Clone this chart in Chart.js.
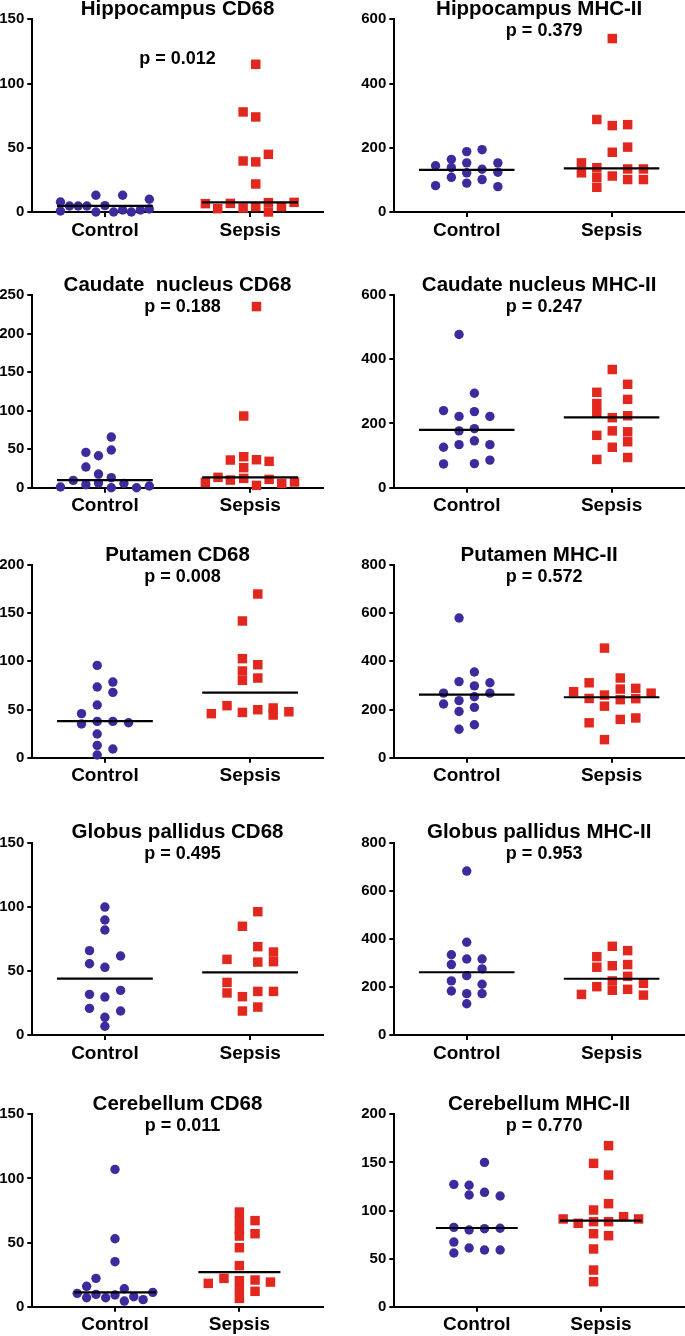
<!DOCTYPE html>
<html>
<head>
<meta charset="utf-8">
<script src="https://cdn.jsdelivr.net/npm/chart.js@4.4.1/dist/chart.umd.min.js"></script>
<style>
  html, body { margin: 0; padding: 0; background: #fff; }
  body { width: 685px; height: 1336px; position: relative; overflow: hidden; }
  canvas { position: absolute; }
</style>
</head>
<body>
<script>
// ---- data ----
const groups = ['Control', 'Sepsis'];
const titles = ['Hippocampus CD68', 'Hippocampus MHC-II', 'Caudate  nucleus CD68', 'Caudate nucleus MHC-II',
  'Putamen CD68', 'Putamen MHC-II', 'Globus pallidus CD68', 'Globus pallidus MHC-II',
  'Cerebellum CD68', 'Cerebellum MHC-II'];
const pValues = ['p = 0.012', 'p = 0.379', 'p = 0.188', 'p = 0.247', 'p = 0.008',
  'p = 0.572', 'p = 0.495', 'p = 0.953', 'p = 0.011', 'p = 0.770'];
const yMax = [150, 600, 250, 600, 200, 800, 150, 800, 150, 200];
const yStep = [50, 200, 50, 200, 50, 200, 50, 200, 50, 50];
const controlMedian = [4.7, 131, 9.9, 180, 38, 262, 43.9, 261, 11.2, 81.8];
const sepsisMedian = [7.5, 136, 13.4, 219, 67.5, 251, 48.9, 234, 27, 89.4];

// hippocampus CD68
const hipCD68Ctrl = [7.8, 0.8, 4.7, 4.7, 4.7, 13, 0, 5, 0, 13, 1.6, 0, 1.6, 9.9, 2.3];
const hipCD68CtrlJit = [-0.306, -0.306, -0.244, -0.184, -0.124, -0.062, -0.062, 0, 0.06, 0.122, 0.122, 0.182, 0.244, 0.306, 0.306];
const hipCD68Seps = [6.5, 2.6, 6.7, 39.7, 3.1, 77.9, 115, 74, 39, 21.8, 4.2, 44.9, 7.3, 0, 4.2, 7.5];
const hipCD68SepsJit = [-0.308, -0.223, -0.136, -0.048, -0.048, -0.048, 0.039, 0.039, 0.039, 0.039, 0.039, 0.126, 0.126, 0.126, 0.216, 0.303];
// hippocampus MHC-II
const hipMHCCtrl = [144, 82, 164, 138, 108, 188, 153, 122, 90, 194, 133, 101, 153, 124, 79];
const hipMHCCtrlJit = [-0.215, -0.215, -0.106, -0.106, -0.106, 0, 0, 0, 0, 0.106, 0.106, 0.106, 0.215, 0.215, 0.215];
const hipMHCSeps = [153, 122, 288, 138, 108, 77, 540, 269, 186, 112, 272, 202, 134, 101, 134, 101];
const hipMHCSepsJit = [-0.208, -0.208, -0.102, -0.102, -0.102, -0.102, 0.005, 0.005, 0.005, 0.005, 0.111, 0.111, 0.111, 0.111, 0.22, 0.22];
// caudate nucleus CD68
const cauCD68Ctrl = [0.9, 9.5, 45.8, 26.8, 3.9, 41.5, 17.7, 6, 65.7, 48.9, 13, 0, 5.6, 0, 2.2];
const cauCD68CtrlJit = [-0.306, -0.218, -0.131, -0.131, -0.131, -0.044, -0.044, -0.044, 0.044, 0.044, 0.044, 0.044, 0.131, 0.218, 0.306];
const cauCD68Seps = [6.9, 13.4, 35.9, 9.9, 93, 40.2, 26, 12.1, 235, 36.3, 3, 34.2, 10.8, 5.6, 7.4];
const cauCD68SepsJit = [-0.308, -0.221, -0.136, -0.136, -0.044, -0.044, -0.044, -0.044, 0.044, 0.044, 0.044, 0.131, 0.131, 0.218, 0.306];
// caudate nucleus MHC-II
const cauMHCCtrl = [240, 126, 74, 477, 222, 177, 134, 294, 237, 184, 146, 75, 222, 134, 86];
const cauMHCCtrlJit = [-0.16, -0.16, -0.16, -0.053, -0.053, -0.053, -0.053, 0.053, 0.053, 0.053, 0.053, 0.053, 0.16, 0.16, 0.16];
const cauMHCSeps = [297, 262, 234, 163, 88, 368, 218, 177, 126, 322, 275, 224, 174, 143, 94];
const cauMHCSepsJit = [-0.102, -0.102, -0.102, -0.102, -0.102, 0.005, 0.005, 0.005, 0.005, 0.111, 0.111, 0.111, 0.111, 0.111, 0.111];
// putamen CD68
const putCD68Ctrl = [45.7, 35, 95.8, 73.4, 54.7, 37.7, 24.6, 12.8, 2.8, 78.5, 67.8, 37.7, 9, 36.3];
const putCD68CtrlJit = [-0.161, -0.161, -0.053, -0.053, -0.053, -0.053, -0.053, -0.053, -0.053, 0.055, 0.055, 0.055, 0.055, 0.163];
const putCD68Seps = [45.7, 54, 141.9, 102.8, 90, 80.3, 47, 169.9, 96.5, 82.7, 49.8, 51.6, 44.3, 47.7];
const putCD68SepsJit = [-0.267, -0.159, -0.053, -0.053, -0.053, -0.053, -0.053, 0.053, 0.053, 0.053, 0.053, 0.159, 0.159, 0.267];
// putamen MHC-II
const putMHCCtrl = [268, 223, 580, 316, 237, 192, 118, 356, 298, 253, 209, 137, 311, 268];
const putMHCCtrlJit = [-0.16, -0.16, -0.053, -0.053, -0.053, -0.053, -0.053, 0.053, 0.053, 0.053, 0.053, 0.053, 0.16, 0.16];
const putMHCSeps = [274, 311, 246, 145, 455, 260, 214, 75, 331, 285, 241, 159, 288, 245, 165, 268];
const putMHCSepsJit = [-0.262, -0.155, -0.155, -0.155, -0.049, -0.049, -0.049, -0.049, 0.06, 0.06, 0.06, 0.06, 0.167, 0.167, 0.167, 0.273];
// globus pallidus CD68
const gpCD68Ctrl = [65.8, 55.6, 31.7, 20.8, 99.8, 89.7, 81.9, 52.8, 29.6, 13.8, 6.8, 61.6, 34.8, 18.7];
const gpCD68CtrlJit = [-0.106, -0.106, -0.106, -0.106, 0, 0, 0, 0, 0, 0, 0, 0.108, 0.108, 0.108];
const gpCD68Seps = [59, 41, 32.8, 84.8, 29.9, 18.7, 96.2, 68.9, 56.9, 34, 21.8, 64.7, 57.2, 34];
const gpCD68SepsJit = [-0.159, -0.159, -0.159, -0.053, -0.053, -0.053, 0.053, 0.053, 0.053, 0.053, 0.053, 0.161, 0.161, 0.161];
// globus pallidus MHC-II
const gpMHCCtrl = [334, 293, 225, 183, 682, 386, 316, 247, 172, 130, 316, 275, 211, 172];
const gpMHCCtrlJit = [-0.106, -0.106, -0.106, -0.106, 0, 0, 0, 0, 0, 0, 0.106, 0.106, 0.106, 0.106];
const gpMHCSeps = [169, 326, 282, 201, 369, 288, 225, 186, 351, 293, 244, 190, 215, 166];
const gpMHCSepsJit = [-0.208, -0.102, -0.102, -0.102, 0.005, 0.005, 0.005, 0.005, 0.111, 0.111, 0.111, 0.111, 0.22, 0.22];
// cerebellum CD68
const cbCD68Ctrl = [10.4, 15.9, 7, 22.1, 9.6, 7, 107.1, 53, 35.1, 9.1, 14, 4.4, 7.8, 5.5, 11.2];
const cbCD68CtrlJit = [-0.304, -0.228, -0.228, -0.153, -0.153, -0.075, 0, 0, 0, 0, 0.075, 0.075, 0.151, 0.226, 0.304];
const cbCD68Seps = [18.2, 22.1, 73.8, 67.1, 60.3, 55.1, 46, 32, 20.3, 13.5, 6.5, 67.1, 56.9, 20.8, 12, 19.2];
const cbCD68SepsJit = [-0.25, -0.124, 0, 0, 0, 0, 0, 0, 0, 0, 0, 0.126, 0.126, 0.126, 0.126, 0.25];
// cerebellum MHC-II
const cbMHCCtrl = [127.2, 82.5, 67.2, 55.8, 126.2, 116.1, 79.7, 61, 150, 118.9, 81.1, 58.9, 115.1, 81.5, 58.9];
const cbMHCCtrlJit = [-0.185, -0.185, -0.185, -0.185, -0.062, -0.062, -0.062, -0.062, 0.062, 0.062, 0.062, 0.062, 0.188, 0.188, 0.188];
const cbMHCSeps = [91.2, 86.7, 149, 100.5, 88.4, 75.9, 60, 38.1, 26, 167.4, 136.9, 107.1, 88.4, 73.8, 93.6, 91.2];
const cbMHCSepsJit = [-0.304, -0.183, -0.059, -0.059, -0.059, -0.059, -0.059, -0.059, -0.059, 0.062, 0.062, 0.062, 0.062, 0.062, 0.183, 0.304];

const controlSets = [[hipCD68Ctrl, hipCD68CtrlJit], [hipMHCCtrl, hipMHCCtrlJit], [cauCD68Ctrl, cauCD68CtrlJit],
  [cauMHCCtrl, cauMHCCtrlJit], [putCD68Ctrl, putCD68CtrlJit], [putMHCCtrl, putMHCCtrlJit],
  [gpCD68Ctrl, gpCD68CtrlJit], [gpMHCCtrl, gpMHCCtrlJit], [cbCD68Ctrl, cbCD68CtrlJit], [cbMHCCtrl, cbMHCCtrlJit]];
const sepsisSets = [[hipCD68Seps, hipCD68SepsJit], [hipMHCSeps, hipMHCSepsJit], [cauCD68Seps, cauCD68SepsJit],
  [cauMHCSeps, cauMHCSepsJit], [putCD68Seps, putCD68SepsJit], [putMHCSeps, putMHCSepsJit],
  [gpCD68Seps, gpCD68SepsJit], [gpMHCSeps, gpMHCSepsJit], [cbCD68Seps, cbCD68SepsJit], [cbMHCSeps, cbMHCSepsJit]];

// ---- layout (page pixels) ----
const colLeft = [0, 342], colWidth = [342, 343], yAxisW = [32.3, 52.3], padRight = [19.3, 1];
const rowTop = [0, 265, 535, 805, 1075], rowH = [265, 270, 270, 270, 261];
const areaTop = [19.3, 295, 565, 842.7, 1114.3], areaBottom = [212, 487.7, 757.7, 1035, 1306.7];
const xAxisH = 28;
const FONT = '"Liberation Sans", Arial, Helvetica, sans-serif';
const BLUE = '#3d2b9d', RED = '#e2281e';

// title + p value, placed by baseline relative to the plot top
const panelText = {
  id: 'panelText',
  afterDraw(chart, args, opts) {
    const { ctx, chartArea } = chart;
    const cx = (chartArea.left + chartArea.right) / 2;
    ctx.save();
    ctx.fillStyle = '#000';
    ctx.textAlign = 'center';
    ctx.textBaseline = 'alphabetic';
    ctx.font = 'bold 20.5px ' + FONT;
    ctx.fillText(opts.title, cx, chartArea.top - 4.3);
    ctx.font = 'bold 18px ' + FONT;
    ctx.fillText(opts.p, cx + opts.pdx, chartArea.top + opts.pdy);
    ctx.restore();
  }
};

function toPoints(vals, jit, g) {
  return vals.map((v, i) => ({ x: g + jit[i], y: v }));
}

for (let i = 0; i < 10; i++) {
  const col = i % 2, row = Math.floor(i / 2);
  const cv = document.createElement('canvas');
  cv.width = colWidth[col];
  cv.height = rowH[row];
  cv.style.left = colLeft[col] + 'px';
  cv.style.top = rowTop[row] + 'px';
  document.body.appendChild(cv);

  const padTop = areaTop[row] - rowTop[row];
  const padBottom = rowH[row] - (areaBottom[row] - rowTop[row]) - xAxisH;
  const xr = row === 4 ? [0.335, 2.67] : [0.5, 2.5];
  const half = 0.33;

  new Chart(cv, {
    type: 'scatter',
    data: {
      datasets: [
        { data: [{ x: 1 - half, y: controlMedian[i] }, { x: 1 + half, y: controlMedian[i] }], type: 'line',
          borderColor: '#000', borderWidth: 2.2, pointRadius: 0, order: 0, clip: false },
        { data: [{ x: 2 - half, y: sepsisMedian[i] }, { x: 2 + half, y: sepsisMedian[i] }], type: 'line',
          borderColor: '#000', borderWidth: 2.2, pointRadius: 0, order: 0, clip: false },
        { label: groups[0], data: toPoints(controlSets[i][0], controlSets[i][1], 1), pointStyle: 'circle',
          pointRadius: 4.7, backgroundColor: BLUE, borderWidth: 0, order: 1, clip: false },
        { label: groups[1], data: toPoints(sepsisSets[i][0], sepsisSets[i][1], 2), pointStyle: 'rect',
          pointRadius: 6.7, backgroundColor: RED, borderWidth: 0, order: 1, clip: false }
      ]
    },
    options: {
      responsive: false,
      animation: false,
      events: [],
      layout: { autoPadding: false, padding: { left: 0, right: padRight[col], top: padTop, bottom: padBottom } },
      plugins: {
        legend: { display: false },
        tooltip: { enabled: false },
        panelText: { title: titles[i], p: pValues[i], pdx: i === 0 ? 0 : 5, pdy: i === 0 ? 45 : 16.7 }
      },
      scales: {
        x: {
          type: 'linear', min: xr[0], max: xr[1],
          afterFit: (s) => { s.height = xAxisH; },
          afterBuildTicks: (s) => { s.ticks = [{ value: 1 }, { value: 2 }]; },
          ticks: { callback: (v) => groups[v - 1], color: '#000', font: { family: FONT, size: 19, weight: 'bold' }, padding: 2, maxRotation: 0 },
          grid: { drawOnChartArea: false, drawTicks: true, tickLength: 5, color: '#000', lineWidth: 2 },
          border: { display: true, color: '#000', width: 2 }
        },
        y: {
          min: 0, max: yMax[i],
          afterFit: (s) => { s.width = yAxisW[col]; },
          ticks: { stepSize: yStep[i], color: '#000', font: { family: FONT, size: 15, weight: 'bold' }, padding: 3 },
          grid: { drawOnChartArea: false, drawTicks: true, tickLength: 5, color: '#000', lineWidth: 2 },
          border: { display: true, color: '#000', width: 2 }
        }
      }
    },
    plugins: [panelText]
  });
}
</script>
</body>
</html>
